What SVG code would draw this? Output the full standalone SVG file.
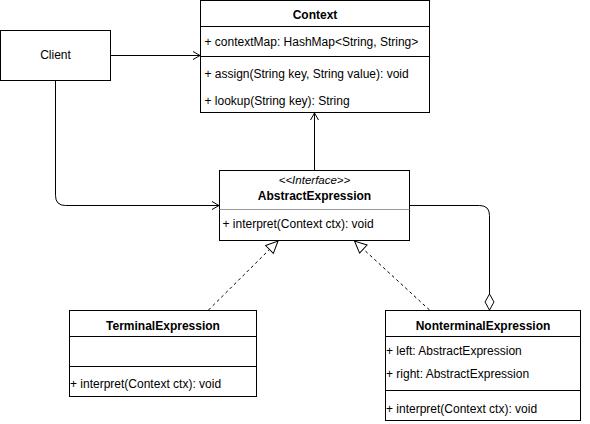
<svg xmlns="http://www.w3.org/2000/svg" width="590" height="424" viewBox="0 0 590 424">
<style>
.box{fill:#fff;stroke:#000;stroke-width:1}
.sep{stroke:#000;stroke-width:1;fill:none}
.sepg{stroke:#9a9a9a;stroke-width:1;fill:none}
text{font-family:"Liberation Sans",Arial,sans-serif;font-size:12px;fill:#000}
.t{font-weight:bold;text-anchor:middle}
.c{text-anchor:middle}
.st{font-style:italic;text-anchor:middle;font-size:11.5px}
.edge{fill:none;stroke:#000;stroke-width:1}
.dash{stroke-dasharray:3 3}
</style>
<defs>
<marker id="open" markerUnits="userSpaceOnUse" markerWidth="20" markerHeight="20" viewBox="-10 -10 20 20" refX="0" refY="0" orient="auto" overflow="visible">
<path d="M-7,-4 L0,0 L-7,4" fill="none" stroke="#000" stroke-width="1" stroke-dasharray="none"/>
</marker>
<marker id="tri" markerUnits="userSpaceOnUse" markerWidth="20" markerHeight="20" viewBox="-2 -8 20 16" refX="12" refY="0" orient="auto" overflow="visible">
<path d="M0,-5.5 L12,0 L0,5.5 Z" fill="#fff" stroke="#000" stroke-width="1" stroke-dasharray="none"/>
</marker>
<marker id="dia" markerUnits="userSpaceOnUse" markerWidth="20" markerHeight="20" viewBox="-2 -8 20 16" refX="16" refY="0" orient="auto" overflow="visible">
<path d="M0,0 L8,-4.5 L16,0 L8,4.5 Z" fill="#fff" stroke="#000" stroke-width="1"/>
</marker>
</defs>
<g id="connectors">
<path class="edge" d="M110.5,55.5 H200" marker-end="url(#open)"/>
<path class="edge" d="M55.5,80.5 V195.5 Q55.5,205.5 65.5,205.5 H219" marker-end="url(#open)"/>
<path class="edge" d="M314.5,170.5 V113" marker-end="url(#open)"/>
<path class="edge dash" d="M208.5,310 L278,241" marker-end="url(#tri)"/>
<path class="edge dash" d="M429.5,310 L354.5,241" marker-end="url(#tri)"/>
<path class="edge" d="M409.5,205.5 H479.5 Q489.5,205.5 489.5,215.5 V310" marker-end="url(#dia)"/>
</g>
<g id="client">
<rect class="box" x="0.5" y="30.5" width="110" height="50"/>
<text class="c" x="55.5" y="59">Client</text>
</g>
<g id="context">
<rect class="box" x="200.5" y="0.5" width="229" height="112"/>
<line class="sep" x1="200.5" y1="26.5" x2="429.5" y2="26.5"/>
<line class="sep" x1="200.5" y1="56.5" x2="429.5" y2="56.5"/>
<text class="t" x="315" y="18.5">Context</text>
<text x="204.5" y="45.5">+ contextMap: HashMap&lt;String, String&gt;</text>
<text x="204.5" y="77.5">+ assign(String key, String value): void</text>
<text x="204.5" y="104.5">+ lookup(String key): String</text>
</g>
<g id="abstractExpression">
<rect class="box" x="219.5" y="170.5" width="190" height="70"/>
<line class="sepg" x1="219.5" y1="209.5" x2="409.5" y2="209.5"/>
<text class="st" x="314.5" y="184">&lt;&lt;Interface&gt;&gt;</text>
<text class="t" x="314.5" y="199.5">AbstractExpression</text>
<text x="222.5" y="227.5">+ interpret(Context ctx): void</text>
</g>
<g id="terminalExpression">
<rect class="box" x="69.5" y="310.5" width="187" height="86"/>
<line class="sep" x1="69.5" y1="336.5" x2="256.5" y2="336.5"/>
<line class="sep" x1="69.5" y1="366.5" x2="256.5" y2="366.5"/>
<text class="t" x="163" y="329.5">TerminalExpression</text>
<text x="70" y="387.5">+ interpret(Context ctx): void</text>
</g>
<g id="nonterminalExpression">
<rect class="box" x="385.5" y="310.5" width="195" height="110"/>
<line class="sep" x1="385.5" y1="336.5" x2="580.5" y2="336.5"/>
<line class="sep" x1="385.5" y1="390.5" x2="580.5" y2="390.5"/>
<text class="t" x="483" y="329.5">NonterminalExpression</text>
<text x="386" y="354.5">+ left: AbstractExpression</text>
<text x="386" y="377.5">+ right: AbstractExpression</text>
<text x="386" y="412.5">+ interpret(Context ctx): void</text>
</g>
</svg>
